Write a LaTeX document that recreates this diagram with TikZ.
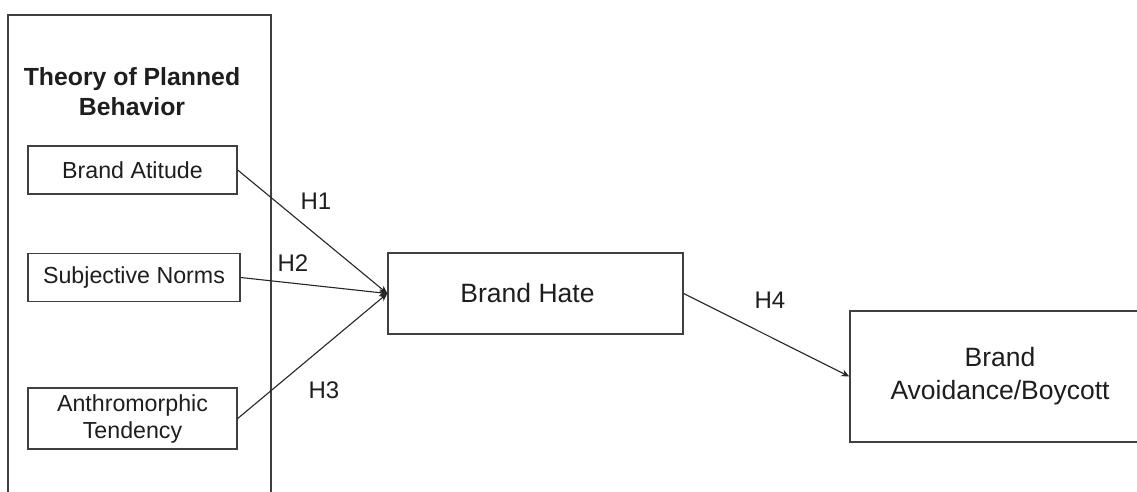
\documentclass[tikz,border=0pt]{standalone}
\usepackage{fontspec}
\setmainfont{Liberation Sans}
\usetikzlibrary{arrows.meta}
\definecolor{linec}{HTML}{404040}
\definecolor{textc}{HTML}{1E1E1E}
\tikzset{
  box/.style={draw=linec, line width=1.4pt, rectangle, inner sep=0pt, align=center, text=textc},
  small/.style={font=\fontsize{23.2}{27}\selectfont},
  big/.style={font=\fontsize{26.5}{33}\selectfont},
  hyp/.style={text=textc, font=\fontsize{24}{28}\selectfont, inner sep=0pt},
  conn/.style={draw=black!85, line width=1.1pt, -{Stealth[length=8pt,width=7pt]}},
}
\begin{document}
\begin{tikzpicture}[x=1pt,y=-1pt]
\useasboundingbox (0,0) rectangle (1137,491);
\fill[white] (0,0) rectangle (1137,491);
% outer frame (open at bottom)
\coordinate (fbl) at (8,495);
\coordinate (ftl) at (8,15);
\coordinate (ftr) at (271,15);
\coordinate (fbr) at (271,495);
\draw[linec, line width=1.4pt] (fbl) -- (ftl) -- (ftr) -- (fbr);
\node[text=textc, align=center, font=\bfseries\fontsize{24.8}{30}\selectfont, inner sep=0pt] (title) at (132,92) {Theory of Planned\\Behavior};
\node[box, small, minimum width=209pt, minimum height=48pt] (ba) at (132.5,170) {Brand Atitude};
\node[box, small, minimum width=212pt, minimum height=48pt] (sn) at (134,277.5) {Subjective Norms};
\node[box, small, minimum width=209pt, minimum height=61pt] (at) at (132.5,418.5) {Anthromorphic\\Tendency};
\node[box, big, minimum width=295pt, minimum height=81pt] (bh) at (535.5,293.5) {\hspace*{-16pt}Brand Hate};
\node[box, big, minimum width=300pt, minimum height=131pt] (av) at (1000,376.5) {Brand\\Avoidance/Boycott};
\draw[conn] (ba.east) -- (bh.west);
\draw[conn] (sn.east) -- (bh.west);
\draw[conn] (at.east) -- (bh.west);
\draw[conn] (bh.east) -- (av.west);
\node[hyp] (h1) at (316,201) {H1};
\node[hyp] (h2) at (293,263) {H2};
\node[hyp] (h3) at (324,390) {H3};
\node[hyp] (h4) at (770,300) {H4};
\end{tikzpicture}
\end{document}
